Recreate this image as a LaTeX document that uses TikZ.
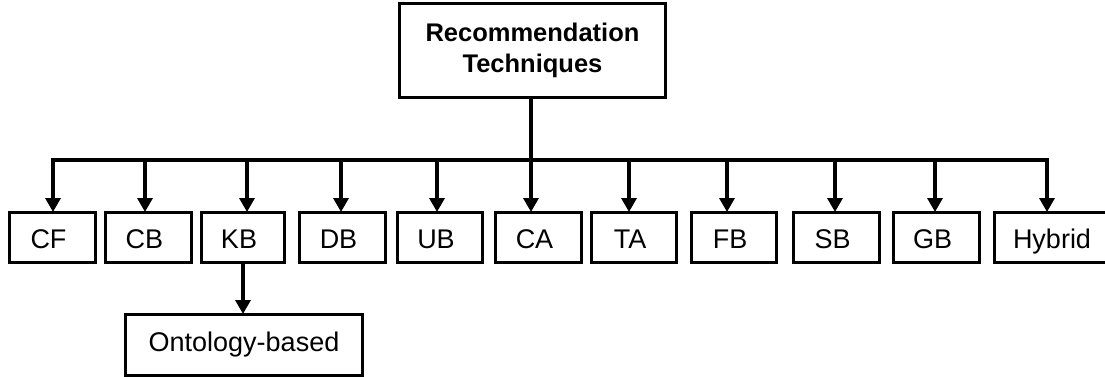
\documentclass[tikz,border=0pt]{standalone}
\usepackage{fontspec}
\setmainfont{Liberation Sans}
\usetikzlibrary{arrows.meta}
\begin{document}
\begin{tikzpicture}[x=1pt,y=-1pt,
  every node/.style={font=\fontsize{27}{31}\selectfont},
  box/.style={draw, line width=3.3pt, inner sep=0pt, minimum height=49.7pt},
  leaf/.style={box, minimum width=85.7pt, text height=21pt, text depth=0pt,
    execute at begin node={\hspace*{-8pt}}},
  link/.style={line width=3.3pt},
  arr/.style={link, -{Triangle[width=15pt,length=14pt]}, shorten >=-1pt}]
\useasboundingbox (0,0) rectangle (1105,377);

% root
\node[box, minimum width=265.7pt, minimum height=93.7pt, align=center,
      font=\fontsize{25.5}{31}\selectfont\bfseries] (root) at (532.5,50.5)
  {Recommendation\\Techniques};

% leaves
\node[leaf] (cf) at (52.5,237.5) {CF};
\node[leaf] (cb) at (148.5,237.5) {CB};
\node[leaf, minimum width=82.7pt] (kb) at (243,237.5) {KB};
\node[leaf] (db) at (342.5,237.5) {DB};
\node[leaf, minimum width=84.7pt] (ub) at (440,237.5) {UB};
\node[leaf] (ca) at (538.5,237.5) {CA};
\node[leaf, minimum width=84.7pt] (ta) at (634,237.5) {TA};
\node[leaf, minimum width=84.7pt] (fb) at (734,237.5) {FB};
\node[leaf] (sb) at (836.5,237.5) {SB};
\node[leaf] (gb) at (936.5,237.5) {GB};
\node[leaf, minimum width=122.7pt] (hy) at (1056,237.5) {Hybrid};

\node[box, minimum width=236.7pt, minimum height=60.7pt] (onto) at (244,345) {Ontology-based};

% branch points on the distribution bar
\coordinate (b1) at (53,160);
\coordinate (b2) at (145,160);
\coordinate (b3) at (247,160);
\coordinate (b4) at (341,160);
\coordinate (b5) at (437,160);
\coordinate (b6) at (531,160);
\coordinate (b7) at (629,160);
\coordinate (b8) at (727,160);
\coordinate (b9) at (835,160);
\coordinate (b10) at (935,160);
\coordinate (b11) at (1047,160);

% trunk and bar
\draw[link] (root.south -| b6) -- (b6);
\draw[link, line cap=rect] (b1) -- (b11);

% drops
\draw[arr] (b1) -- (b1 |- cf.north);
\draw[arr] (b2) -- (b2 |- cb.north);
\draw[arr] (b3) -- (b3 |- kb.north);
\draw[arr] (b4) -- (b4 |- db.north);
\draw[arr] (b5) -- (b5 |- ub.north);
\draw[arr] (b6) -- (b6 |- ca.north);
\draw[arr] (b7) -- (b7 |- ta.north);
\draw[arr] (b8) -- (b8 |- fb.north);
\draw[arr] (b9) -- (b9 |- sb.north);
\draw[arr] (b10) -- (b10 |- gb.north);
\draw[arr] (b11) -- (b11 |- hy.north);

% knowledge-based refinement
\draw[arr] (kb.south) -- (onto.north -| kb.south);
\end{tikzpicture}
\end{document}
